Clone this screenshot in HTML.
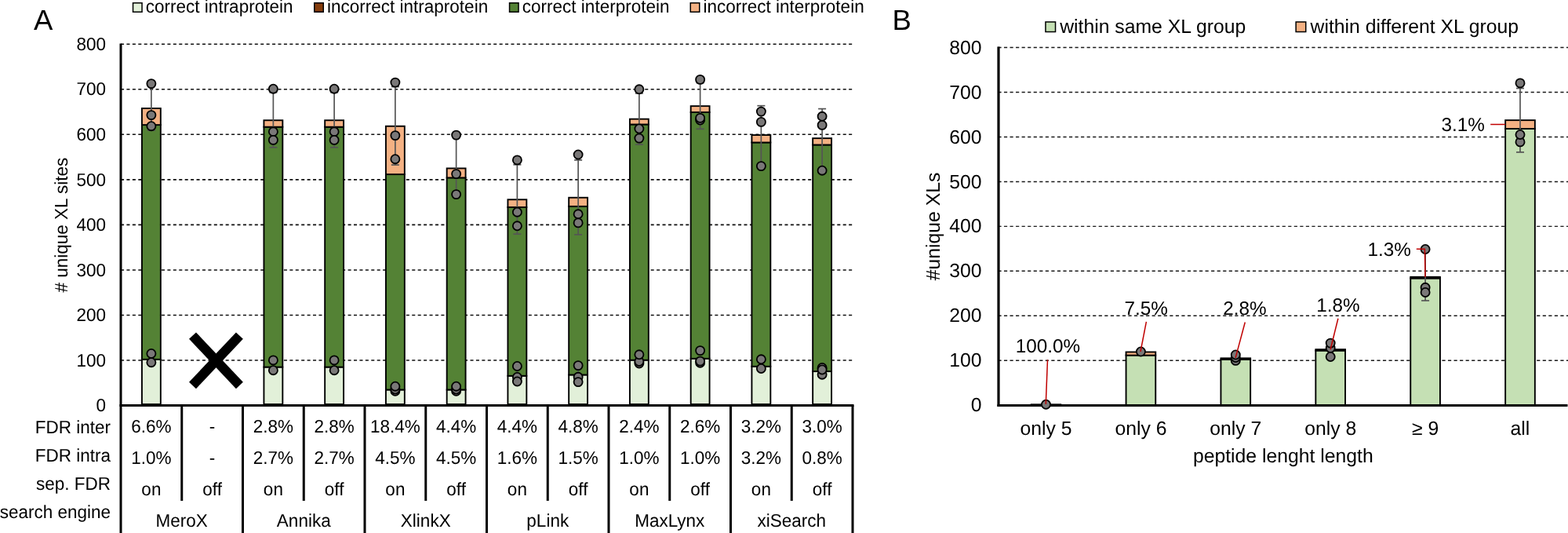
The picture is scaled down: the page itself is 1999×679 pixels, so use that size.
<!DOCTYPE html>
<html><head><meta charset="utf-8"><title>Figure</title>
<style>
html,body{margin:0;padding:0;background:#fff;}
body{width:1999px;height:679px;overflow:hidden;}
svg{display:block;font-family:"Liberation Sans", Arial, sans-serif;fill:#000;text-rendering:geometricPrecision;}
</style></head><body>
<svg width="1999" height="679" viewBox="0 0 1999 679">
<rect x="0" y="0" width="1999" height="679" fill="#fff"/>
<text x="43.1" y="37.6" font-size="36.5" text-anchor="start" >A</text>
<rect x="169.55" y="3.75" width="11.50" height="11.50" fill="#E2F0D9" stroke="#000" stroke-width="1.5"/>
<text transform="translate(185.85000000000002,15.85) scale(1,1.025)" font-size="22.5" text-anchor="start" >correct intraprotein</text>
<rect x="400.75" y="3.75" width="11.50" height="11.50" fill="#843C0C" stroke="#000" stroke-width="1.5"/>
<text transform="translate(417.05,15.85) scale(1,1.025)" font-size="22.5" text-anchor="start" >incorrect intraprotein</text>
<rect x="649.55" y="3.75" width="11.50" height="11.50" fill="#548235" stroke="#000" stroke-width="1.5"/>
<text transform="translate(665.8499999999999,15.85) scale(1,1.025)" font-size="22.5" text-anchor="start" >correct interprotein</text>
<rect x="880.25" y="3.75" width="11.50" height="11.50" fill="#F4B183" stroke="#000" stroke-width="1.5"/>
<text transform="translate(896.55,15.85) scale(1,1.025)" font-size="22.5" text-anchor="start" >incorrect interprotein</text>
<line x1="154.0" y1="458.97" x2="1087.0" y2="458.97" stroke="#111" stroke-width="1.55" stroke-dasharray="4.05 3.375"/>
<line x1="154.0" y1="401.44" x2="1087.0" y2="401.44" stroke="#111" stroke-width="1.55" stroke-dasharray="4.05 3.375"/>
<line x1="154.0" y1="343.90999999999997" x2="1087.0" y2="343.90999999999997" stroke="#111" stroke-width="1.55" stroke-dasharray="4.05 3.375"/>
<line x1="154.0" y1="286.38" x2="1087.0" y2="286.38" stroke="#111" stroke-width="1.55" stroke-dasharray="4.05 3.375"/>
<line x1="154.0" y1="228.84999999999997" x2="1087.0" y2="228.84999999999997" stroke="#111" stroke-width="1.55" stroke-dasharray="4.05 3.375"/>
<line x1="154.0" y1="171.32" x2="1087.0" y2="171.32" stroke="#111" stroke-width="1.55" stroke-dasharray="4.05 3.375"/>
<line x1="154.0" y1="113.78999999999996" x2="1087.0" y2="113.78999999999996" stroke="#111" stroke-width="1.55" stroke-dasharray="4.05 3.375"/>
<line x1="154.0" y1="56.25999999999999" x2="1087.0" y2="56.25999999999999" stroke="#111" stroke-width="1.55" stroke-dasharray="4.05 3.375"/>
<text transform="translate(135.0,524.2) scale(1,1.025)" font-size="22.5" text-anchor="end" >0</text>
<text transform="translate(135.0,466.67) scale(1,1.025)" font-size="22.5" text-anchor="end" >100</text>
<text transform="translate(135.0,409.14) scale(1,1.025)" font-size="22.5" text-anchor="end" >200</text>
<text transform="translate(135.0,351.61) scale(1,1.025)" font-size="22.5" text-anchor="end" >300</text>
<text transform="translate(135.0,294.08) scale(1,1.025)" font-size="22.5" text-anchor="end" >400</text>
<text transform="translate(135.0,236.55) scale(1,1.025)" font-size="22.5" text-anchor="end" >500</text>
<text transform="translate(135.0,179.02) scale(1,1.025)" font-size="22.5" text-anchor="end" >600</text>
<text transform="translate(135.0,121.49) scale(1,1.025)" font-size="22.5" text-anchor="end" >700</text>
<text transform="translate(135.0,63.96) scale(1,1.025)" font-size="22.5" text-anchor="end" >800</text>
<text transform="translate(86.2,286.7) rotate(-90) scale(1,1.025)" font-size="22.5" text-anchor="middle">#&#160;unique XL sites</text>
<rect x="180.92" y="457.80" width="23.90" height="57.20" fill="#E2F0D9" stroke="#000" stroke-width="1.9"/>
<rect x="180.92" y="159.10" width="23.90" height="298.70" fill="#548235" stroke="#000" stroke-width="1.9"/>
<rect x="180.92" y="138.05" width="23.90" height="21.05" fill="#F4B183" stroke="#000" stroke-width="1.9"/>
<rect x="336.43" y="467.60" width="23.90" height="47.40" fill="#E2F0D9" stroke="#000" stroke-width="1.9"/>
<rect x="336.43" y="161.70" width="23.90" height="305.90" fill="#548235" stroke="#000" stroke-width="1.9"/>
<rect x="336.43" y="153.25" width="23.90" height="8.45" fill="#F4B183" stroke="#000" stroke-width="1.9"/>
<rect x="414.18" y="467.60" width="23.90" height="47.40" fill="#E2F0D9" stroke="#000" stroke-width="1.9"/>
<rect x="414.18" y="161.70" width="23.90" height="305.90" fill="#548235" stroke="#000" stroke-width="1.9"/>
<rect x="414.18" y="153.25" width="23.90" height="8.45" fill="#F4B183" stroke="#000" stroke-width="1.9"/>
<rect x="491.93" y="496.50" width="23.90" height="18.50" fill="#E2F0D9" stroke="#000" stroke-width="1.9"/>
<rect x="491.93" y="222.10" width="23.90" height="274.40" fill="#548235" stroke="#000" stroke-width="1.9"/>
<rect x="491.93" y="160.75" width="23.90" height="61.35" fill="#F4B183" stroke="#000" stroke-width="1.9"/>
<rect x="569.68" y="496.50" width="23.90" height="18.50" fill="#E2F0D9" stroke="#000" stroke-width="1.9"/>
<rect x="569.68" y="226.40" width="23.90" height="270.10" fill="#548235" stroke="#000" stroke-width="1.9"/>
<rect x="569.68" y="214.45" width="23.90" height="11.95" fill="#F4B183" stroke="#000" stroke-width="1.9"/>
<rect x="647.43" y="478.80" width="23.90" height="36.20" fill="#E2F0D9" stroke="#000" stroke-width="1.9"/>
<rect x="647.43" y="264.00" width="23.90" height="214.80" fill="#548235" stroke="#000" stroke-width="1.9"/>
<rect x="647.43" y="254.25" width="23.90" height="9.75" fill="#F4B183" stroke="#000" stroke-width="1.9"/>
<rect x="725.18" y="477.50" width="23.90" height="37.50" fill="#E2F0D9" stroke="#000" stroke-width="1.9"/>
<rect x="725.18" y="262.90" width="23.90" height="214.60" fill="#548235" stroke="#000" stroke-width="1.9"/>
<rect x="725.18" y="251.75" width="23.90" height="11.15" fill="#F4B183" stroke="#000" stroke-width="1.9"/>
<rect x="802.93" y="458.70" width="23.90" height="56.30" fill="#E2F0D9" stroke="#000" stroke-width="1.9"/>
<rect x="802.93" y="158.50" width="23.90" height="300.20" fill="#548235" stroke="#000" stroke-width="1.9"/>
<rect x="802.93" y="151.65" width="23.90" height="6.85" fill="#F4B183" stroke="#000" stroke-width="1.9"/>
<rect x="880.68" y="456.80" width="23.90" height="58.20" fill="#E2F0D9" stroke="#000" stroke-width="1.9"/>
<rect x="880.68" y="143.00" width="23.90" height="313.80" fill="#548235" stroke="#000" stroke-width="1.9"/>
<rect x="880.68" y="135.15" width="23.90" height="7.85" fill="#F4B183" stroke="#000" stroke-width="1.9"/>
<rect x="958.43" y="466.80" width="23.90" height="48.20" fill="#E2F0D9" stroke="#000" stroke-width="1.9"/>
<rect x="958.43" y="181.50" width="23.90" height="285.30" fill="#548235" stroke="#000" stroke-width="1.9"/>
<rect x="958.43" y="172.05" width="23.90" height="9.45" fill="#F4B183" stroke="#000" stroke-width="1.9"/>
<rect x="1036.17" y="473.10" width="23.90" height="41.90" fill="#E2F0D9" stroke="#000" stroke-width="1.9"/>
<rect x="1036.17" y="184.50" width="23.90" height="288.60" fill="#548235" stroke="#000" stroke-width="1.9"/>
<rect x="1036.17" y="176.15" width="23.90" height="8.35" fill="#F4B183" stroke="#000" stroke-width="1.9"/>
<line x1="192.875" y1="109.2" x2="192.875" y2="166.0" stroke="#555555" stroke-width="1.7" />
<line x1="187.875" y1="109.2" x2="197.875" y2="109.2" stroke="#555555" stroke-width="1.7" />
<line x1="187.875" y1="166.0" x2="197.875" y2="166.0" stroke="#555555" stroke-width="1.7" />
<circle cx="192.88" cy="106.60" r="5.55" fill="#7A7878" stroke="#000" stroke-width="1.8"/>
<circle cx="192.88" cy="146.60" r="5.55" fill="#7A7878" stroke="#000" stroke-width="1.8"/>
<circle cx="192.88" cy="160.70" r="5.55" fill="#7A7878" stroke="#000" stroke-width="1.8"/>
<circle cx="192.88" cy="450.50" r="5.55" fill="#7A7878" stroke="#000" stroke-width="1.8"/>
<circle cx="192.88" cy="461.70" r="5.55" fill="#7A7878" stroke="#000" stroke-width="1.8"/>
<line x1="348.375" y1="117.8" x2="348.375" y2="187.8" stroke="#555555" stroke-width="1.7" />
<line x1="343.375" y1="117.8" x2="353.375" y2="117.8" stroke="#555555" stroke-width="1.7" />
<line x1="343.375" y1="187.8" x2="353.375" y2="187.8" stroke="#555555" stroke-width="1.7" />
<circle cx="348.38" cy="113.20" r="5.55" fill="#7A7878" stroke="#000" stroke-width="1.8"/>
<circle cx="348.38" cy="167.80" r="5.55" fill="#7A7878" stroke="#000" stroke-width="1.8"/>
<circle cx="348.38" cy="178.40" r="5.55" fill="#7A7878" stroke="#000" stroke-width="1.8"/>
<circle cx="348.38" cy="458.90" r="5.55" fill="#7A7878" stroke="#000" stroke-width="1.8"/>
<circle cx="348.38" cy="471.70" r="5.55" fill="#7A7878" stroke="#000" stroke-width="1.8"/>
<line x1="426.125" y1="117.8" x2="426.125" y2="187.8" stroke="#555555" stroke-width="1.7" />
<line x1="421.125" y1="117.8" x2="431.125" y2="117.8" stroke="#555555" stroke-width="1.7" />
<line x1="421.125" y1="187.8" x2="431.125" y2="187.8" stroke="#555555" stroke-width="1.7" />
<circle cx="426.12" cy="113.20" r="5.55" fill="#7A7878" stroke="#000" stroke-width="1.8"/>
<circle cx="426.12" cy="167.80" r="5.55" fill="#7A7878" stroke="#000" stroke-width="1.8"/>
<circle cx="426.12" cy="178.40" r="5.55" fill="#7A7878" stroke="#000" stroke-width="1.8"/>
<circle cx="426.12" cy="458.90" r="5.55" fill="#7A7878" stroke="#000" stroke-width="1.8"/>
<circle cx="426.12" cy="471.70" r="5.55" fill="#7A7878" stroke="#000" stroke-width="1.8"/>
<line x1="503.875" y1="110.5" x2="503.875" y2="210.1" stroke="#555555" stroke-width="1.7" />
<line x1="498.875" y1="110.5" x2="508.875" y2="110.5" stroke="#555555" stroke-width="1.7" />
<line x1="498.875" y1="210.1" x2="508.875" y2="210.1" stroke="#555555" stroke-width="1.7" />
<circle cx="503.88" cy="105.10" r="5.55" fill="#7A7878" stroke="#000" stroke-width="1.8"/>
<circle cx="503.88" cy="172.60" r="5.55" fill="#7A7878" stroke="#000" stroke-width="1.8"/>
<circle cx="503.88" cy="202.70" r="5.55" fill="#7A7878" stroke="#000" stroke-width="1.8"/>
<circle cx="503.88" cy="498.30" r="5.55" fill="#7A7878" stroke="#000" stroke-width="1.8"/>
<circle cx="503.88" cy="496.00" r="5.55" fill="#7A7878" stroke="#000" stroke-width="1.8"/>
<circle cx="503.88" cy="492.20" r="5.55" fill="#7A7878" stroke="#000" stroke-width="1.8"/>
<line x1="581.625" y1="172.1" x2="581.625" y2="247.6" stroke="#555555" stroke-width="1.7" />
<line x1="576.625" y1="172.1" x2="586.625" y2="172.1" stroke="#555555" stroke-width="1.7" />
<line x1="576.625" y1="247.6" x2="586.625" y2="247.6" stroke="#555555" stroke-width="1.7" />
<circle cx="581.62" cy="172.10" r="5.55" fill="#7A7878" stroke="#000" stroke-width="1.8"/>
<circle cx="581.62" cy="221.60" r="5.55" fill="#7A7878" stroke="#000" stroke-width="1.8"/>
<circle cx="581.62" cy="247.60" r="5.55" fill="#7A7878" stroke="#000" stroke-width="1.8"/>
<circle cx="581.62" cy="498.30" r="5.55" fill="#7A7878" stroke="#000" stroke-width="1.8"/>
<circle cx="581.62" cy="496.00" r="5.55" fill="#7A7878" stroke="#000" stroke-width="1.8"/>
<circle cx="581.62" cy="492.20" r="5.55" fill="#7A7878" stroke="#000" stroke-width="1.8"/>
<line x1="659.375" y1="209.8" x2="659.375" y2="298.2" stroke="#555555" stroke-width="1.7" />
<line x1="654.375" y1="209.8" x2="664.375" y2="209.8" stroke="#555555" stroke-width="1.7" />
<line x1="654.375" y1="298.2" x2="664.375" y2="298.2" stroke="#555555" stroke-width="1.7" />
<line x1="659.375" y1="466.5" x2="659.375" y2="486.0" stroke="#555555" stroke-width="1.7" />
<circle cx="659.38" cy="203.90" r="5.55" fill="#7A7878" stroke="#000" stroke-width="1.8"/>
<circle cx="659.38" cy="270.20" r="5.55" fill="#7A7878" stroke="#000" stroke-width="1.8"/>
<circle cx="659.38" cy="287.80" r="5.55" fill="#7A7878" stroke="#000" stroke-width="1.8"/>
<circle cx="659.38" cy="466.50" r="5.55" fill="#7A7878" stroke="#000" stroke-width="1.8"/>
<circle cx="659.38" cy="480.50" r="5.55" fill="#7A7878" stroke="#000" stroke-width="1.8"/>
<circle cx="659.38" cy="486.00" r="5.55" fill="#7A7878" stroke="#000" stroke-width="1.8"/>
<line x1="737.125" y1="203.9" x2="737.125" y2="298.9" stroke="#555555" stroke-width="1.7" />
<line x1="732.125" y1="203.9" x2="742.125" y2="203.9" stroke="#555555" stroke-width="1.7" />
<line x1="732.125" y1="298.9" x2="742.125" y2="298.9" stroke="#555555" stroke-width="1.7" />
<line x1="737.125" y1="465.6" x2="737.125" y2="486.6" stroke="#555555" stroke-width="1.7" />
<circle cx="737.12" cy="197.00" r="5.55" fill="#7A7878" stroke="#000" stroke-width="1.8"/>
<circle cx="737.12" cy="272.80" r="5.55" fill="#7A7878" stroke="#000" stroke-width="1.8"/>
<circle cx="737.12" cy="283.90" r="5.55" fill="#7A7878" stroke="#000" stroke-width="1.8"/>
<circle cx="737.12" cy="465.60" r="5.55" fill="#7A7878" stroke="#000" stroke-width="1.8"/>
<circle cx="737.12" cy="480.30" r="5.55" fill="#7A7878" stroke="#000" stroke-width="1.8"/>
<circle cx="737.12" cy="486.60" r="5.55" fill="#7A7878" stroke="#000" stroke-width="1.8"/>
<line x1="814.875" y1="118.9" x2="814.875" y2="184.1" stroke="#555555" stroke-width="1.7" />
<line x1="809.875" y1="118.9" x2="819.875" y2="118.9" stroke="#555555" stroke-width="1.7" />
<line x1="809.875" y1="184.1" x2="819.875" y2="184.1" stroke="#555555" stroke-width="1.7" />
<circle cx="814.88" cy="113.80" r="5.55" fill="#7A7878" stroke="#000" stroke-width="1.8"/>
<circle cx="814.88" cy="164.00" r="5.55" fill="#7A7878" stroke="#000" stroke-width="1.8"/>
<circle cx="814.88" cy="176.10" r="5.55" fill="#7A7878" stroke="#000" stroke-width="1.8"/>
<circle cx="814.88" cy="463.00" r="5.55" fill="#7A7878" stroke="#000" stroke-width="1.8"/>
<circle cx="814.88" cy="460.50" r="5.55" fill="#7A7878" stroke="#000" stroke-width="1.8"/>
<circle cx="814.88" cy="451.80" r="5.55" fill="#7A7878" stroke="#000" stroke-width="1.8"/>
<line x1="892.625" y1="105.6" x2="892.625" y2="164.3" stroke="#555555" stroke-width="1.7" />
<line x1="887.625" y1="105.6" x2="897.625" y2="105.6" stroke="#555555" stroke-width="1.7" />
<line x1="887.625" y1="164.3" x2="897.625" y2="164.3" stroke="#555555" stroke-width="1.7" />
<circle cx="892.62" cy="101.40" r="5.55" fill="#7A7878" stroke="#000" stroke-width="1.8"/>
<circle cx="892.62" cy="153.00" r="5.55" fill="#7A7878" stroke="#000" stroke-width="1.8"/>
<circle cx="892.62" cy="150.40" r="5.55" fill="#7A7878" stroke="#000" stroke-width="1.8"/>
<circle cx="892.62" cy="446.60" r="5.55" fill="#7A7878" stroke="#000" stroke-width="1.8"/>
<circle cx="892.62" cy="462.30" r="5.55" fill="#7A7878" stroke="#000" stroke-width="1.8"/>
<circle cx="892.62" cy="460.10" r="5.55" fill="#7A7878" stroke="#000" stroke-width="1.8"/>
<line x1="970.375" y1="134.7" x2="970.375" y2="211.6" stroke="#555555" stroke-width="1.7" />
<line x1="965.375" y1="134.7" x2="975.375" y2="134.7" stroke="#555555" stroke-width="1.7" />
<line x1="965.375" y1="211.6" x2="975.375" y2="211.6" stroke="#555555" stroke-width="1.7" />
<circle cx="970.38" cy="142.10" r="5.55" fill="#7A7878" stroke="#000" stroke-width="1.8"/>
<circle cx="970.38" cy="155.40" r="5.55" fill="#7A7878" stroke="#000" stroke-width="1.8"/>
<circle cx="970.38" cy="211.60" r="5.55" fill="#7A7878" stroke="#000" stroke-width="1.8"/>
<circle cx="970.38" cy="457.80" r="5.55" fill="#7A7878" stroke="#000" stroke-width="1.8"/>
<circle cx="970.38" cy="469.50" r="5.55" fill="#7A7878" stroke="#000" stroke-width="1.8"/>
<line x1="1048.125" y1="138.6" x2="1048.125" y2="217.2" stroke="#555555" stroke-width="1.7" />
<line x1="1043.125" y1="138.6" x2="1053.125" y2="138.6" stroke="#555555" stroke-width="1.7" />
<line x1="1043.125" y1="217.2" x2="1053.125" y2="217.2" stroke="#555555" stroke-width="1.7" />
<circle cx="1048.12" cy="148.30" r="5.55" fill="#7A7878" stroke="#000" stroke-width="1.8"/>
<circle cx="1048.12" cy="159.40" r="5.55" fill="#7A7878" stroke="#000" stroke-width="1.8"/>
<circle cx="1048.12" cy="217.20" r="5.55" fill="#7A7878" stroke="#000" stroke-width="1.8"/>
<circle cx="1048.12" cy="468.50" r="5.55" fill="#7A7878" stroke="#000" stroke-width="1.8"/>
<circle cx="1048.12" cy="477.20" r="5.55" fill="#7A7878" stroke="#000" stroke-width="1.8"/>
<circle cx="1048.12" cy="471.00" r="5.55" fill="#7A7878" stroke="#000" stroke-width="1.8"/>
<g stroke="#000" stroke-width="12.3" stroke-linecap="butt"><line x1="245.5" y1="427.6" x2="305.4" y2="491.0"/><line x1="305.4" y1="427.6" x2="245.5" y2="491.0"/></g>
<line x1="154.0" y1="55.5" x2="154.0" y2="679" stroke="#000" stroke-width="3.0" />
<line x1="152.5" y1="516.5" x2="1088.5" y2="516.5" stroke="#000" stroke-width="3.0" />
<line x1="231.75" y1="516.5" x2="231.75" y2="638.0" stroke="#000" stroke-width="3.0" />
<line x1="309.5" y1="516.5" x2="309.5" y2="679" stroke="#000" stroke-width="3.0" />
<line x1="387.25" y1="516.5" x2="387.25" y2="638.0" stroke="#000" stroke-width="3.0" />
<line x1="465.0" y1="516.5" x2="465.0" y2="679" stroke="#000" stroke-width="3.0" />
<line x1="542.75" y1="516.5" x2="542.75" y2="638.0" stroke="#000" stroke-width="3.0" />
<line x1="620.5" y1="516.5" x2="620.5" y2="679" stroke="#000" stroke-width="3.0" />
<line x1="698.25" y1="516.5" x2="698.25" y2="638.0" stroke="#000" stroke-width="3.0" />
<line x1="776.0" y1="516.5" x2="776.0" y2="679" stroke="#000" stroke-width="3.0" />
<line x1="853.75" y1="516.5" x2="853.75" y2="638.0" stroke="#000" stroke-width="3.0" />
<line x1="931.5" y1="516.5" x2="931.5" y2="679" stroke="#000" stroke-width="3.0" />
<line x1="1009.25" y1="516.5" x2="1009.25" y2="638.0" stroke="#000" stroke-width="3.0" />
<line x1="1087.0" y1="516.5" x2="1087.0" y2="679" stroke="#000" stroke-width="3.0" />
<text transform="translate(141.0,552.4) scale(1,1.025)" font-size="22.5" text-anchor="end" >FDR inter</text>
<text transform="translate(141.0,588.4) scale(1,1.025)" font-size="22.5" text-anchor="end" >FDR intra</text>
<text transform="translate(141.0,624.0) scale(1,1.025)" font-size="22.5" text-anchor="end" >sep. FDR</text>
<text transform="translate(141.0,660.4) scale(1,1.025)" font-size="22.5" text-anchor="end" >search engine</text>
<text transform="translate(192.88,550.7) scale(1,1.025)" font-size="22.5" text-anchor="middle" >6.6%</text>
<text transform="translate(192.88,590.8) scale(1,1.025)" font-size="22.5" text-anchor="middle" >1.0%</text>
<text transform="translate(192.88,630.5) scale(1,1.025)" font-size="22.5" text-anchor="middle" >on</text>
<text transform="translate(270.62,550.7) scale(1,1.025)" font-size="22.5" text-anchor="middle" >-</text>
<text transform="translate(270.62,590.8) scale(1,1.025)" font-size="22.5" text-anchor="middle" >-</text>
<text transform="translate(270.62,630.5) scale(1,1.025)" font-size="22.5" text-anchor="middle" >off</text>
<text transform="translate(348.38,550.7) scale(1,1.025)" font-size="22.5" text-anchor="middle" >2.8%</text>
<text transform="translate(348.38,590.8) scale(1,1.025)" font-size="22.5" text-anchor="middle" >2.7%</text>
<text transform="translate(348.38,630.5) scale(1,1.025)" font-size="22.5" text-anchor="middle" >on</text>
<text transform="translate(426.12,550.7) scale(1,1.025)" font-size="22.5" text-anchor="middle" >2.8%</text>
<text transform="translate(426.12,590.8) scale(1,1.025)" font-size="22.5" text-anchor="middle" >2.7%</text>
<text transform="translate(426.12,630.5) scale(1,1.025)" font-size="22.5" text-anchor="middle" >off</text>
<text transform="translate(503.88,550.7) scale(1,1.025)" font-size="22.5" text-anchor="middle" >18.4%</text>
<text transform="translate(503.88,590.8) scale(1,1.025)" font-size="22.5" text-anchor="middle" >4.5%</text>
<text transform="translate(503.88,630.5) scale(1,1.025)" font-size="22.5" text-anchor="middle" >on</text>
<text transform="translate(581.62,550.7) scale(1,1.025)" font-size="22.5" text-anchor="middle" >4.4%</text>
<text transform="translate(581.62,590.8) scale(1,1.025)" font-size="22.5" text-anchor="middle" >4.5%</text>
<text transform="translate(581.62,630.5) scale(1,1.025)" font-size="22.5" text-anchor="middle" >off</text>
<text transform="translate(659.38,550.7) scale(1,1.025)" font-size="22.5" text-anchor="middle" >4.4%</text>
<text transform="translate(659.38,590.8) scale(1,1.025)" font-size="22.5" text-anchor="middle" >1.6%</text>
<text transform="translate(659.38,630.5) scale(1,1.025)" font-size="22.5" text-anchor="middle" >on</text>
<text transform="translate(737.12,550.7) scale(1,1.025)" font-size="22.5" text-anchor="middle" >4.8%</text>
<text transform="translate(737.12,590.8) scale(1,1.025)" font-size="22.5" text-anchor="middle" >1.5%</text>
<text transform="translate(737.12,630.5) scale(1,1.025)" font-size="22.5" text-anchor="middle" >off</text>
<text transform="translate(814.88,550.7) scale(1,1.025)" font-size="22.5" text-anchor="middle" >2.4%</text>
<text transform="translate(814.88,590.8) scale(1,1.025)" font-size="22.5" text-anchor="middle" >1.0%</text>
<text transform="translate(814.88,630.5) scale(1,1.025)" font-size="22.5" text-anchor="middle" >on</text>
<text transform="translate(892.62,550.7) scale(1,1.025)" font-size="22.5" text-anchor="middle" >2.6%</text>
<text transform="translate(892.62,590.8) scale(1,1.025)" font-size="22.5" text-anchor="middle" >1.0%</text>
<text transform="translate(892.62,630.5) scale(1,1.025)" font-size="22.5" text-anchor="middle" >off</text>
<text transform="translate(970.38,550.7) scale(1,1.025)" font-size="22.5" text-anchor="middle" >3.2%</text>
<text transform="translate(970.38,590.8) scale(1,1.025)" font-size="22.5" text-anchor="middle" >3.2%</text>
<text transform="translate(970.38,630.5) scale(1,1.025)" font-size="22.5" text-anchor="middle" >on</text>
<text transform="translate(1048.12,550.7) scale(1,1.025)" font-size="22.5" text-anchor="middle" >3.0%</text>
<text transform="translate(1048.12,590.8) scale(1,1.025)" font-size="22.5" text-anchor="middle" >0.8%</text>
<text transform="translate(1048.12,630.5) scale(1,1.025)" font-size="22.5" text-anchor="middle" >off</text>
<text transform="translate(231.75,671.2) scale(1,1.025)" font-size="22.5" text-anchor="middle" >MeroX</text>
<text transform="translate(387.25,671.2) scale(1,1.025)" font-size="22.5" text-anchor="middle" >Annika</text>
<text transform="translate(542.75,671.2) scale(1,1.025)" font-size="22.5" text-anchor="middle" >XlinkX</text>
<text transform="translate(698.25,671.2) scale(1,1.025)" font-size="22.5" text-anchor="middle" >pLink</text>
<text transform="translate(853.75,671.2) scale(1,1.025)" font-size="22.5" text-anchor="middle" >MaxLynx</text>
<text transform="translate(1009.25,671.2) scale(1,1.025)" font-size="22.5" text-anchor="middle" >xiSearch</text>
<text x="1137.5" y="37.5" font-size="36.5" text-anchor="start" >B</text>
<rect x="1332.95" y="27.95" width="12.60" height="12.60" fill="#C5E0B4" stroke="#000" stroke-width="1.5"/>
<text x="1351.2" y="41.6" font-size="24.75" text-anchor="start" >within same XL group</text>
<rect x="1652.15" y="27.95" width="12.60" height="12.60" fill="#F4B183" stroke="#000" stroke-width="1.5"/>
<text x="1670.6" y="41.6" font-size="24.75" text-anchor="start" >within different XL group</text>
<line x1="1272.4" y1="459.24000000000007" x2="1999" y2="459.24000000000007" stroke="#1a1a1a" stroke-width="1.45" stroke-dasharray="4.2 3.347"/>
<line x1="1272.4" y1="402.28000000000003" x2="1999" y2="402.28000000000003" stroke="#1a1a1a" stroke-width="1.45" stroke-dasharray="4.2 3.347"/>
<line x1="1272.4" y1="345.32000000000005" x2="1999" y2="345.32000000000005" stroke="#1a1a1a" stroke-width="1.45" stroke-dasharray="4.2 3.347"/>
<line x1="1272.4" y1="288.36" x2="1999" y2="288.36" stroke="#1a1a1a" stroke-width="1.45" stroke-dasharray="4.2 3.347"/>
<line x1="1272.4" y1="231.40000000000003" x2="1999" y2="231.40000000000003" stroke="#1a1a1a" stroke-width="1.45" stroke-dasharray="4.2 3.347"/>
<line x1="1272.4" y1="174.44000000000005" x2="1999" y2="174.44000000000005" stroke="#1a1a1a" stroke-width="1.45" stroke-dasharray="4.2 3.347"/>
<line x1="1272.4" y1="117.48000000000008" x2="1999" y2="117.48000000000008" stroke="#1a1a1a" stroke-width="1.45" stroke-dasharray="4.2 3.347"/>
<line x1="1272.4" y1="60.52000000000004" x2="1999" y2="60.52000000000004" stroke="#1a1a1a" stroke-width="1.45" stroke-dasharray="4.2 3.347"/>
<text x="1251.5" y="524.3" font-size="24.75" text-anchor="end" >0</text>
<text x="1251.5" y="467.34" font-size="24.75" text-anchor="end" >100</text>
<text x="1251.5" y="410.38" font-size="24.75" text-anchor="end" >200</text>
<text x="1251.5" y="353.42" font-size="24.75" text-anchor="end" >300</text>
<text x="1251.5" y="296.46" font-size="24.75" text-anchor="end" >400</text>
<text x="1251.5" y="239.5" font-size="24.75" text-anchor="end" >500</text>
<text x="1251.5" y="182.54" font-size="24.75" text-anchor="end" >600</text>
<text x="1251.5" y="125.58" font-size="24.75" text-anchor="end" >700</text>
<text x="1251.5" y="68.62" font-size="24.75" text-anchor="end" >800</text>
<text transform="translate(1198.0,288.4) rotate(-90)" font-size="24.75" text-anchor="middle">#unique XLs</text>
<rect x="1314.65" y="515.30" width="37.70" height="1.20" fill="#C5E0B4" stroke="#000" stroke-width="1.9"/>
<rect x="1435.55" y="452.60" width="37.70" height="63.90" fill="#C5E0B4" stroke="#000" stroke-width="1.9"/>
<rect x="1435.55" y="448.45" width="37.70" height="4.15" fill="#F4B183" stroke="#000" stroke-width="1.9"/>
<rect x="1556.45" y="458.00" width="37.70" height="58.50" fill="#C5E0B4" stroke="#000" stroke-width="1.9"/>
<rect x="1556.45" y="456.35" width="37.70" height="1.65" fill="#F4B183" stroke="#000" stroke-width="1.9"/>
<rect x="1677.35" y="446.60" width="37.70" height="69.90" fill="#C5E0B4" stroke="#000" stroke-width="1.9"/>
<rect x="1677.35" y="445.15" width="37.70" height="1.45" fill="#F4B183" stroke="#000" stroke-width="1.9"/>
<rect x="1798.25" y="354.50" width="37.70" height="162.00" fill="#C5E0B4" stroke="#000" stroke-width="1.9"/>
<rect x="1798.25" y="352.85" width="37.70" height="1.65" fill="#F4B183" stroke="#000" stroke-width="1.9"/>
<rect x="1919.15" y="164.00" width="37.70" height="352.50" fill="#C5E0B4" stroke="#000" stroke-width="1.9"/>
<rect x="1919.15" y="153.15" width="37.70" height="10.85" fill="#F4B183" stroke="#000" stroke-width="1.9"/>
<line x1="1273.0" y1="59.5" x2="1273.0" y2="518.0" stroke="#000" stroke-width="3.2" />
<line x1="1271.5" y1="516.5" x2="1998.5" y2="516.5" stroke="#000" stroke-width="3.0" />
<line x1="1817.1" y1="317.6" x2="1817.1" y2="383.0" stroke="#555555" stroke-width="1.7" />
<line x1="1812.1" y1="383.0" x2="1822.1" y2="383.0" stroke="#555555" stroke-width="1.7" />
<line x1="1938.0" y1="112.5" x2="1938.0" y2="193.9" stroke="#555555" stroke-width="1.7" />
<line x1="1933.0" y1="112.5" x2="1943.0" y2="112.5" stroke="#555555" stroke-width="1.7" />
<line x1="1933.0" y1="193.9" x2="1943.0" y2="193.9" stroke="#555555" stroke-width="1.7" />
<circle cx="1333.50" cy="515.30" r="5.55" fill="#7A7878" stroke="#000" stroke-width="1.8"/>
<circle cx="1454.40" cy="448.00" r="5.55" fill="#7A7878" stroke="#000" stroke-width="1.8"/>
<circle cx="1575.30" cy="459.40" r="5.55" fill="#7A7878" stroke="#000" stroke-width="1.8"/>
<circle cx="1575.30" cy="455.50" r="5.55" fill="#7A7878" stroke="#000" stroke-width="1.8"/>
<circle cx="1575.30" cy="452.00" r="5.55" fill="#7A7878" stroke="#000" stroke-width="1.8"/>
<circle cx="1696.20" cy="454.50" r="5.55" fill="#7A7878" stroke="#000" stroke-width="1.8"/>
<circle cx="1696.20" cy="443.40" r="5.55" fill="#7A7878" stroke="#000" stroke-width="1.8"/>
<circle cx="1696.20" cy="437.10" r="5.55" fill="#7A7878" stroke="#000" stroke-width="1.8"/>
<circle cx="1817.10" cy="366.30" r="5.55" fill="#7A7878" stroke="#000" stroke-width="1.8"/>
<circle cx="1817.10" cy="372.50" r="5.55" fill="#7A7878" stroke="#000" stroke-width="1.8"/>
<circle cx="1817.10" cy="317.50" r="5.55" fill="#7A7878" stroke="#000" stroke-width="1.8"/>
<circle cx="1938.00" cy="180.90" r="5.55" fill="#7A7878" stroke="#000" stroke-width="1.8"/>
<circle cx="1938.00" cy="171.50" r="5.55" fill="#7A7878" stroke="#000" stroke-width="1.8"/>
<circle cx="1938.00" cy="105.90" r="5.55" fill="#7A7878" stroke="#000" stroke-width="1.8"/>
<line x1="1335.5" y1="458.3" x2="1333.3" y2="514.9" stroke="#C00000" stroke-width="1.5" />
<line x1="1461.4" y1="409.9" x2="1454.0" y2="448.0" stroke="#C00000" stroke-width="1.5" />
<line x1="1587.3" y1="410.5" x2="1575.1" y2="455.9" stroke="#C00000" stroke-width="1.5" />
<line x1="1705.9" y1="405.7" x2="1696.1" y2="445.3" stroke="#C00000" stroke-width="1.5" />
<polyline points="1805.8,317.3 1816.4,317.3 1817.0,353.0" fill="none" stroke="#C00000" stroke-width="1.5"/>
<line x1="1900.2" y1="158.5" x2="1919.1" y2="158.5" stroke="#C00000" stroke-width="1.5" />
<text x="1336.0" y="449.4" font-size="24.3" text-anchor="middle" >100.0%</text>
<text x="1461.2" y="401.3" font-size="24.3" text-anchor="middle" >7.5%</text>
<text x="1586.9" y="401.0" font-size="24.3" text-anchor="middle" >2.8%</text>
<text x="1705.9" y="396.5" font-size="24.3" text-anchor="middle" >1.8%</text>
<text x="1771.2" y="326.4" font-size="24.3" text-anchor="middle" >1.3%</text>
<text x="1865.3" y="167.2" font-size="24.3" text-anchor="middle" >3.1%</text>
<text x="1333.50" y="553.6" font-size="24.75" text-anchor="middle" >only 5</text>
<text x="1454.40" y="553.6" font-size="24.75" text-anchor="middle" >only 6</text>
<text x="1575.30" y="553.6" font-size="24.75" text-anchor="middle" >only 7</text>
<text x="1696.20" y="553.6" font-size="24.75" text-anchor="middle" >only 8</text>
<text x="1817.10" y="553.6" font-size="24.75" text-anchor="middle" >&#8805; 9</text>
<text x="1938.00" y="553.6" font-size="24.75" text-anchor="middle" >all</text>
<text x="1635.8" y="588.7" font-size="24.75" text-anchor="middle" >peptide lenght length</text>
</svg>
</body></html>
